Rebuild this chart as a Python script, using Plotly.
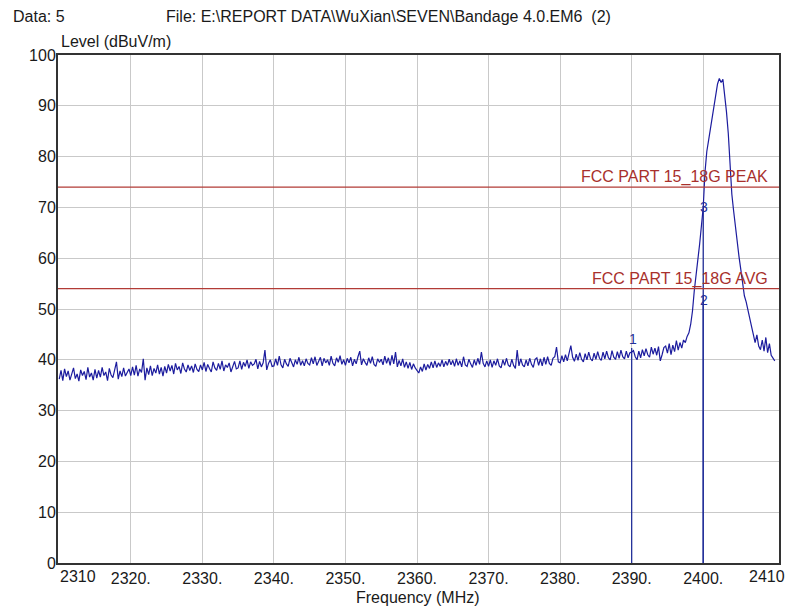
import plotly.graph_objects as go

# ---------------- data ----------------
FREQ_START = 2310.0
FREQ_STEP = 0.25

level_rows = [
    [36.2, 37.9, 35.9, 38.2, 36.7, 37.8, 36.0, 37.5, 38.4, 36.3, 37.2, 35.8, 38.0, 36.9, 37.7, 36.1, 38.5, 36.6, 37.4, 36.0],
    [38.1, 36.4, 37.9, 36.6, 38.5, 36.9, 37.6, 35.9, 38.3, 37.0, 36.5, 38.0, 39.6, 36.2, 37.8, 36.7, 38.4, 36.8, 37.5, 38.2],
    [36.9, 38.6, 37.0, 38.9, 36.8, 38.2, 37.5, 40.2, 36.0, 38.4, 37.1, 38.8, 36.9, 38.3, 37.4, 39.0, 37.2, 38.5, 36.8, 38.7],
    [37.4, 39.1, 37.8, 38.9, 37.2, 39.3, 38.0, 38.7, 37.3, 39.4, 38.2, 37.6, 39.0, 37.9, 38.8, 37.5, 39.2, 38.1, 37.7, 39.0],
    [38.0, 39.5, 37.7, 39.1, 38.3, 37.6, 39.6, 38.4, 37.9, 39.3, 38.1, 39.8, 37.8, 39.0, 38.5, 39.4, 37.6, 38.9, 39.7, 38.2],
    [38.4, 39.8, 38.1, 39.5, 38.7, 40.0, 38.3, 39.6, 38.9, 39.2, 40.1, 38.2, 39.7, 38.6, 39.4, 41.9, 38.0, 39.3, 40.0, 38.7],
    [38.8, 40.2, 38.9, 40.7, 39.0, 38.4, 40.1, 39.2, 38.7, 40.3, 39.6, 38.6, 40.0, 39.1, 40.5, 38.9, 39.8, 38.8, 40.2, 39.3],
    [39.0, 40.4, 39.2, 40.6, 38.9, 39.8, 40.5, 38.8, 40.3, 39.4, 40.0, 38.9, 40.7, 39.3, 38.8, 40.4, 39.5, 40.8, 39.1, 40.0],
    [38.9, 40.3, 39.4, 40.5, 38.8, 40.1, 39.2, 40.6, 41.7, 39.0, 40.2, 39.5, 38.9, 40.4, 39.3, 40.6, 39.1, 38.7, 40.2, 39.5],
    [40.1, 39.0, 40.7, 39.3, 40.4, 38.9, 40.9, 39.2, 41.5, 38.6, 39.9, 38.8, 40.2, 38.5, 39.6, 38.3, 39.5, 38.1, 39.2, 38.4],
    [37.9, 37.4, 38.6, 37.7, 39.2, 38.0, 39.1, 38.3, 39.6, 38.4, 39.8, 38.5, 39.4, 38.7, 40.0, 38.6, 39.7, 38.9, 40.1, 39.0],
    [39.9, 38.7, 40.2, 38.9, 39.8, 38.6, 40.6, 39.0, 38.7, 40.1, 39.2, 38.5, 40.0, 38.9, 40.3, 39.1, 41.5, 39.3, 38.6, 39.8],
    [38.7, 40.0, 38.5, 39.8, 38.9, 40.2, 38.8, 38.4, 40.0, 38.9, 40.3, 39.0, 38.6, 40.1, 38.9, 38.3, 41.9, 38.8, 40.2, 39.0],
    [38.6, 40.0, 38.8, 40.3, 39.1, 38.5, 40.1, 40.4, 38.9, 40.2, 38.8, 40.5, 39.1, 40.6, 39.3, 38.9, 40.3, 40.6, 42.5, 39.6],
    [39.4, 40.8, 39.6, 41.0, 39.8, 41.2, 42.8, 40.5, 39.7, 41.1, 39.9, 41.4, 40.1, 39.6, 41.2, 40.0, 41.5, 40.2, 39.8, 41.3],
    [40.1, 41.6, 40.3, 39.9, 41.5, 40.2, 41.7, 40.4, 40.0, 41.8, 40.5, 40.1, 41.6, 40.3, 41.9, 40.6, 40.2, 41.7, 40.4, 41.4],
    [41.5, 41.8, 40.6, 40.0, 41.7, 40.4, 42.0, 40.8, 42.2, 41.0, 40.5, 42.5, 41.1, 42.3, 40.9, 42.6, 39.8, 41.0, 42.4, 42.7],
    [41.3, 43.2, 41.0, 42.9, 41.6, 43.8, 41.9, 43.4, 42.3, 43.9, 43.4, 44.6, 45.3, 47.0, 49.6, 53.6, 56.5, 59.2, 62.8, 66.4],
    [70.0, 77.0, 81.0, 83.2, 85.6, 87.4, 90.2, 92.5, 94.3, 95.4, 94.6, 95.2, 92.5, 88.8, 84.6, 78.5, 72.6, 69.3, 66.0, 62.5],
    [60.3, 57.8, 55.0, 52.6, 51.4, 49.6, 47.8, 46.6, 45.0, 43.4, 44.9, 42.7, 42.0, 43.9, 41.7, 44.4, 41.4, 43.2, 40.9, 40.4],
    [39.8],
]
levels = [v for row in level_rows for v in row]
freqs = [FREQ_START + FREQ_STEP * i for i in range(len(levels))]

limit_names = ["FCC PART 15_18G PEAK", "FCC PART 15_18G AVG"]
limit_levels = [74, 54]

marker_labels = ["1", "2", "3"]
marker_freqs = [2390.0, 2400.0, 2400.0]
marker_levels = [42.3, 52.5, 70.3]

x_tick_vals = [2320, 2330, 2340, 2350, 2360, 2370, 2380, 2390, 2400]
x_tick_text = ["2320.", "2330.", "2340.", "2350.", "2360.", "2370.", "2380.", "2390.", "2400."]
x_edge_labels = ["2310", "2410"]

header_left = "Data: 5"
header_file = "File: E:\\REPORT DATA\\WuXian\\SEVEN\\Bandage 4.0.EM6  (2)"
y_title = "Level (dBuV/m)"
x_title = "Frequency (MHz)"

# ---------------- figure ----------------
FONT = "Liberation Sans, Arial, sans-serif"
TXT = "#1a1a1a"
TRACE = "#1c1c9e"
LIMIT = "#b23b36"
LIMIT_TXT = "#a8302c"
MARK = "#23309a"

# page offset of the figure div (default body margin) and target screen geometry
OFF = 8
W, H = 793 - OFF, 610 - OFF
L, R, T, B = 58, 781, 55, 563   # plot area in screen pixels


def px(xp):
    return (xp - L) / (R - L)


def py(yp):
    return (B - yp) / (B - T)


fig = go.Figure()

# marker vertical lines
for f, lv in zip(marker_freqs, marker_levels):
    fig.add_trace(go.Scatter(x=[f, f], y=[0, lv], mode="lines",
                             line=dict(color=MARK, width=1.3),
                             hoverinfo="skip", showlegend=False))

fig.add_trace(go.Scatter(x=freqs, y=levels, mode="lines",
                         line=dict(color=TRACE, width=1.2),
                         showlegend=False))

# limit lines
for name, lv in zip(limit_names, limit_levels):
    fig.add_shape(type="line", xref="paper", yref="y", x0=0, x1=1, y0=lv, y1=lv,
                  line=dict(color=LIMIT, width=1.3))
    fig.add_annotation(text=name, xref="paper", yref="y", x=px(772), y=lv,
                       xanchor="right", yanchor="bottom", yshift=-1, showarrow=False,
                       font=dict(family=FONT, size=16, color=LIMIT_TXT))

# marker labels
marker_shift = [9, -4, -1]
for lab, f, lv, sh in zip(marker_labels, marker_freqs, marker_levels, marker_shift):
    fig.add_annotation(text=lab, x=f, y=lv, xanchor="center", yanchor="middle",
                       xshift=1, yshift=sh, showarrow=False,
                       font=dict(family=FONT, size=14, color=MARK))

# edge x tick labels
fig.add_annotation(text=x_edge_labels[0], xref="paper", yref="paper", x=px(58), y=py(576),
                   xanchor="left", yanchor="middle", showarrow=False,
                   font=dict(family=FONT, size=16, color=TXT))
fig.add_annotation(text=x_edge_labels[1], xref="paper", yref="paper", x=px(789), y=py(576),
                   xanchor="right", yanchor="middle", showarrow=False,
                   font=dict(family=FONT, size=16, color=TXT))

# headers and titles
fig.add_annotation(text=header_left, xref="paper", yref="paper", x=px(11), y=py(17),
                   xanchor="left", yanchor="middle", showarrow=False,
                   font=dict(family=FONT, size=16, color=TXT))
fig.add_annotation(text=header_file, xref="paper", yref="paper", x=px(164), y=py(17),
                   xanchor="left", yanchor="middle", showarrow=False,
                   font=dict(family=FONT, size=16, color=TXT))
fig.add_annotation(text=y_title, xref="paper", yref="paper", x=px(59), y=py(41),
                   xanchor="left", yanchor="middle", showarrow=False,
                   font=dict(family=FONT, size=16, color=TXT))
fig.add_annotation(text=x_title, xref="paper", yref="paper", x=px(419), y=py(597),
                   xanchor="center", yanchor="middle", showarrow=False,
                   font=dict(family=FONT, size=16, color=TXT))

fig.update_layout(
    width=W, height=H,
    margin=dict(l=L - OFF, r=W - (R - OFF), t=T - OFF, b=H - (B - OFF)),
    paper_bgcolor="white", plot_bgcolor="white",
    font=dict(family=FONT, size=16, color=TXT),
    showlegend=False,
)
fig.update_xaxes(range=[2309.83, 2410.59], tickvals=x_tick_vals, ticktext=x_tick_text,
                 showgrid=True, gridcolor="#c9c9c9", gridwidth=1,
                 showline=True, linecolor="#333333", linewidth=2, mirror=True,
                 ticks="", zeroline=False, ticklabelstandoff=0,
                 tickfont=dict(family=FONT, size=16, color=TXT))
fig.update_yaxes(range=[0, 100], dtick=10, tick0=0,
                 showgrid=True, gridcolor="#c9c9c9", gridwidth=1,
                 showline=True, linecolor="#333333", linewidth=2, mirror=True,
                 ticks="", zeroline=False, ticklabelstandoff=-3,
                 tickfont=dict(family=FONT, size=16, color=TXT))

fig.write_html("out.html")
